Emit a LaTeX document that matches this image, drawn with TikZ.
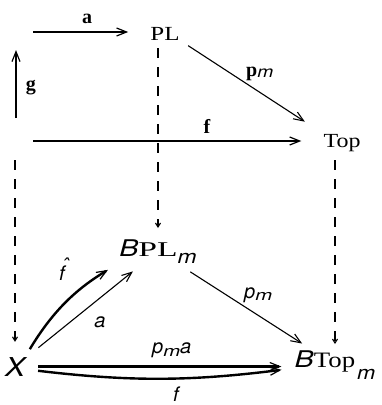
\documentclass[tikz,border=0pt]{standalone}
\usepackage{fontspec}
\usepackage{graphicx}
\usetikzlibrary{arrows.meta}
\setmainfont{Liberation Serif}
\newfontfamily\hv{TeX Gyre Heros}
\newcommand{\xs}[2]{\scalebox{#1}[1]{#2}}
\newcommand{\sv}[1]{{\mdseries\hv\itshape #1}}
\newcommand{\lo}[2]{\raisebox{-#1pt}{#2}}
\newcommand{\fs}[1]{\fontsize{#1}{#1}\selectfont}

\begin{document}
\begin{tikzpicture}[x=1pt,y=-1pt,
  obj/.style={inner sep=0pt,anchor=base},
  lbl/.style={inner sep=0pt,anchor=base,font=\fs{20}},
  blbl/.style={inner sep=0pt,anchor=base,font=\fs{20}\bfseries},
  map/.style={line width=2.4pt,-{Straight Barb[length=10pt,width=8pt,line width=1.2pt]}},
  thinmap/.style={line width=1.1pt,-{Straight Barb[length=10pt,width=8pt,line width=1.1pt]}},
  dashmap/.style={line width=1.1pt,dash pattern=on 10pt off 9pt,-{Straight Barb[length=4pt,width=5pt]}}]
\useasboundingbox (0,0) rectangle (381,405);

% upper part
\node[obj,font=\fs{20}] (PL) at (165,40) {\xs{1.25}{PL}};
\node[obj,font=\fs{20}] (Top) at (342,147) {\xs{1.2}{Top}};
\coordinate (a0) at (33,32);
\coordinate (g0) at (16,118);
\coordinate (g1) at (16,50);
\coordinate (f0) at (33,141);
\coordinate (d0) at (15,160);

% lower triangle
\node[obj] (BPL) at (158,256) {{\fs{23}\xs{1.25}{\sv{B}}}{\fs{21}\xs{1.6}{PL}}\lo{7}{\fs{19}\xs{1.2}{\sv{m}}}};
\node[obj] (BTop) at (335,367) {{\fs{23}\xs{1.25}{\sv{B}}}{\fs{22}\xs{1.22}{Top}}\kern2pt\lo{12}{\fs{19}\xs{1.15}{\sv{m}}}};
\node[obj] (X) at (15,376) {\fs{26}\xs{1.15}{\sv{X}}};

\draw[map] (a0) -- (a0 -| PL.west) [shorten >=22pt];
\draw[map,line width=2.6pt] (g0) -- (g1);
\draw[map] (f0) -- (f0 -| Top.west) [shorten >=22pt];
\draw[thinmap,shorten <=10pt,shorten >=22pt] (PL.south east) -- (Top.north west);

\draw[dashmap,shorten <=8pt,shorten >=11pt] (PL.south -| BPL.north) -- (BPL.north);
\draw[dashmap,shorten >=15pt] (d0) -- (X.north);
\draw[dashmap,shorten <=9pt,shorten >=6pt] (Top.south -| BTop.north) -- (BTop.north);

\draw[thinmap,shorten <=17pt,shorten >=13pt] (X) -- (BPL);
\draw[map,shorten <=9pt,shorten >=13pt] (X.north east) to[bend left=14] (BPL.south west);
\draw[thinmap,shorten <=16pt,shorten >=12pt] (BPL) -- (BTop);
\draw[map,line width=3.4pt,shorten <=13pt,shorten >=13pt] (X.east) -- (X.east -| BTop.west);
\draw[map,shorten <=13pt,shorten >=13pt] (X.-15) to[bend right=7] (BTop.-175);

% labels
\node[blbl] (la) at (87,23) {a};
\node[blbl] (lg) at (31,90) {g};
\node[blbl] (lf) at (207,133) {f};
\node[blbl,anchor=base west] (lp) at (246,76) {p\lo{1}{\fs{16}\xs{1.2}{\sv{m}}}};
\node[lbl] (lfh) at (62,280) {\rlap{\raisebox{8pt}{\kern3pt\sv{\char"02C6}}}\sv{f}};
\node[lbl] (la2) at (100,327) {\sv{a}};
\node[lbl,anchor=base west] (lpm) at (244,298) {\sv{p}\lo{2}{\fs{15}\xs{1.35}{\sv{m}}}};
\node[lbl,anchor=base west] (lpma) at (152,353) {\sv{p}\lo{3}{\fs{15}\xs{1.35}{\sv{m}}}\sv{a}};
\node[lbl] (lfb) at (176,401) {\sv{f}};
\end{tikzpicture}
\end{document}
